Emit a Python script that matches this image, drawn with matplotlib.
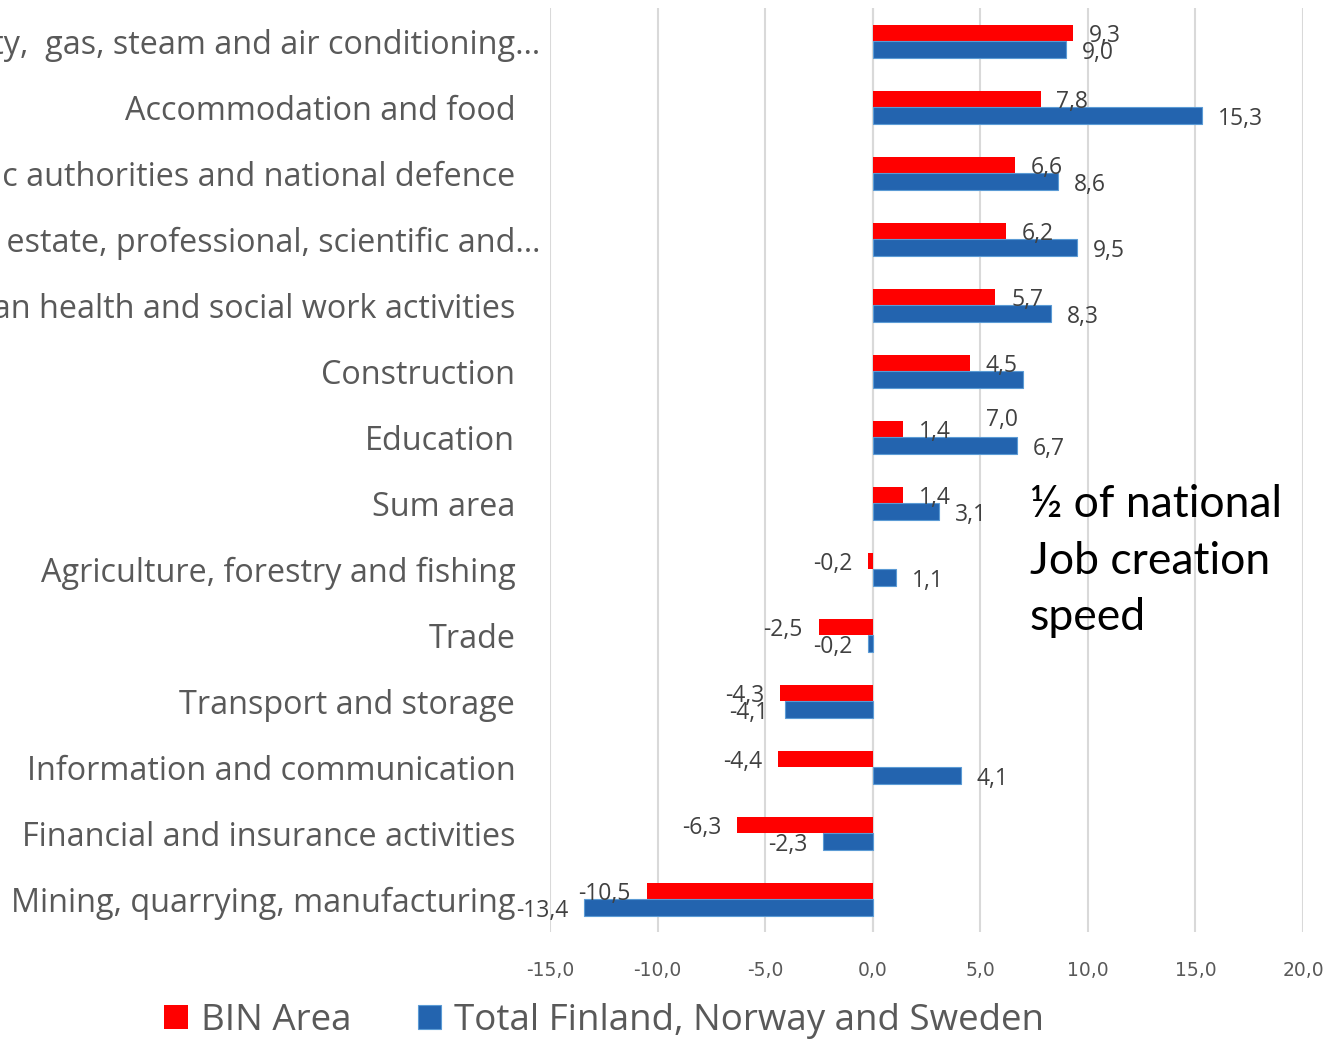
import matplotlib
matplotlib.use("Agg")
from matplotlib import pyplot as plt
import numpy as np

# data
categories = ["Electricity,  gas, steam and air conditioning\u2026",
              "Accommodation and food",
              "Public authorities and national defence",
              "Real estate, professional, scientific and\u2026",
              "Human health and social work activities",
              "Construction",
              "Education",
              "Sum area",
              "Agriculture, forestry and fishing",
              "Trade",
              "Transport and storage",
              "Information and communication",
              "Financial and insurance activities",
              "Mining, quarrying, manufacturing"]
bin_area = [9.3, 7.8, 6.6, 6.2, 5.7, 4.5, 1.4, 1.4, -0.2, -2.5, -4.3, -4.4, -6.3, -10.5]
total_fns = [9.0, 15.3, 8.6, 9.5, 8.3, 7.0, 6.7, 3.1, 1.1, -0.2, -4.1, 4.1, -2.3, -13.4]
xticks = [-15, -10, -5, 0, 5, 10, 15, 20]

RED = "#FF0000"
BLUE = "#2364AF"
GREY = "#595959"
FONT = "Open Sans"

fig = plt.figure(figsize=(13.25, 10.39), dpi=100)
ax = fig.add_axes([550/1325, 1-932/1039, 753/1325, 924/1039])

y = np.arange(len(categories))
h = 0.25
r1 = ax.barh(y - h/2, bin_area, height=h, color=RED, label="BIN Area", zorder=3)
r2 = ax.barh(y + h/2, total_fns, height=h, color=BLUE, edgecolor="#5B9BD5",
             linewidth=0.8, label="Total Finland, Norway and Sweden", zorder=3)

ax.set_xlim(-15, 20)
ax.set_ylim(13.5, -0.5)
ax.set_xticks(xticks)
ax.set_xticklabels([f"{t:.1f}".replace(".", ",") for t in xticks],
                   fontsize=13.5, color=GREY, family="Liberation Sans Narrow")
ax.set_yticks(y)
ax.set_yticklabels(categories, fontsize=23.3, color=GREY, family=FONT)
ax.tick_params(axis="both", length=0)
ax.tick_params(axis="x", pad=21)
ax.tick_params(axis="y", pad=25)
for i, t in enumerate(ax.yaxis.get_major_ticks()):
    if categories[i].endswith("\u2026"):
        t.set_pad(7)

for s in ax.spines.values():
    s.set_visible(False)
ax.grid(axis="x", color="#D9D9D9", lw=1.5, zorder=0)
ax.axvline(0, color="#D9D9D9", lw=1.5, zorder=1)

def lab(bars, vals, dy):
    for i, (b, v) in enumerate(zip(bars, vals)):
        yc = b.get_y() + b.get_height()/2
        txt = f"{v:.1f}".replace(".", ",")
        dx = 11.5 if v >= 0 else -11.5
        ha = "left" if v >= 0 else "right"
        oy = dy
        if bars is r2 and categories[i] == "Construction":
            dx, oy, ha = -27, -29, "left"
        ax.annotate(txt, (v, yc), xytext=(dx, oy), textcoords="offset points",
                    ha=ha, va="center", fontsize=16.5, color="#404040", family=FONT,
                    zorder=4)

lab(r1, bin_area, -2.5)
lab(r2, total_fns, -2.5)

ax.text(7.3, 7.88, "\u00bd of national\nJob creation\nspeed", fontsize=32,
        family="Lato", color="black", va="center", ha="left", linespacing=1.46)

leg = fig.legend(handles=[r1, r2], loc="center", bbox_to_anchor=(0.456, 1-1021/1039),
                 ncol=2, frameon=False, prop={"family": FONT, "size": 26.5},
                 handlelength=0.65, handleheight=0.65, handletextpad=0.35, columnspacing=1.8)
for t in leg.get_texts():
    t.set_color(GREY)

fig.savefig("out.png", dpi=100)
